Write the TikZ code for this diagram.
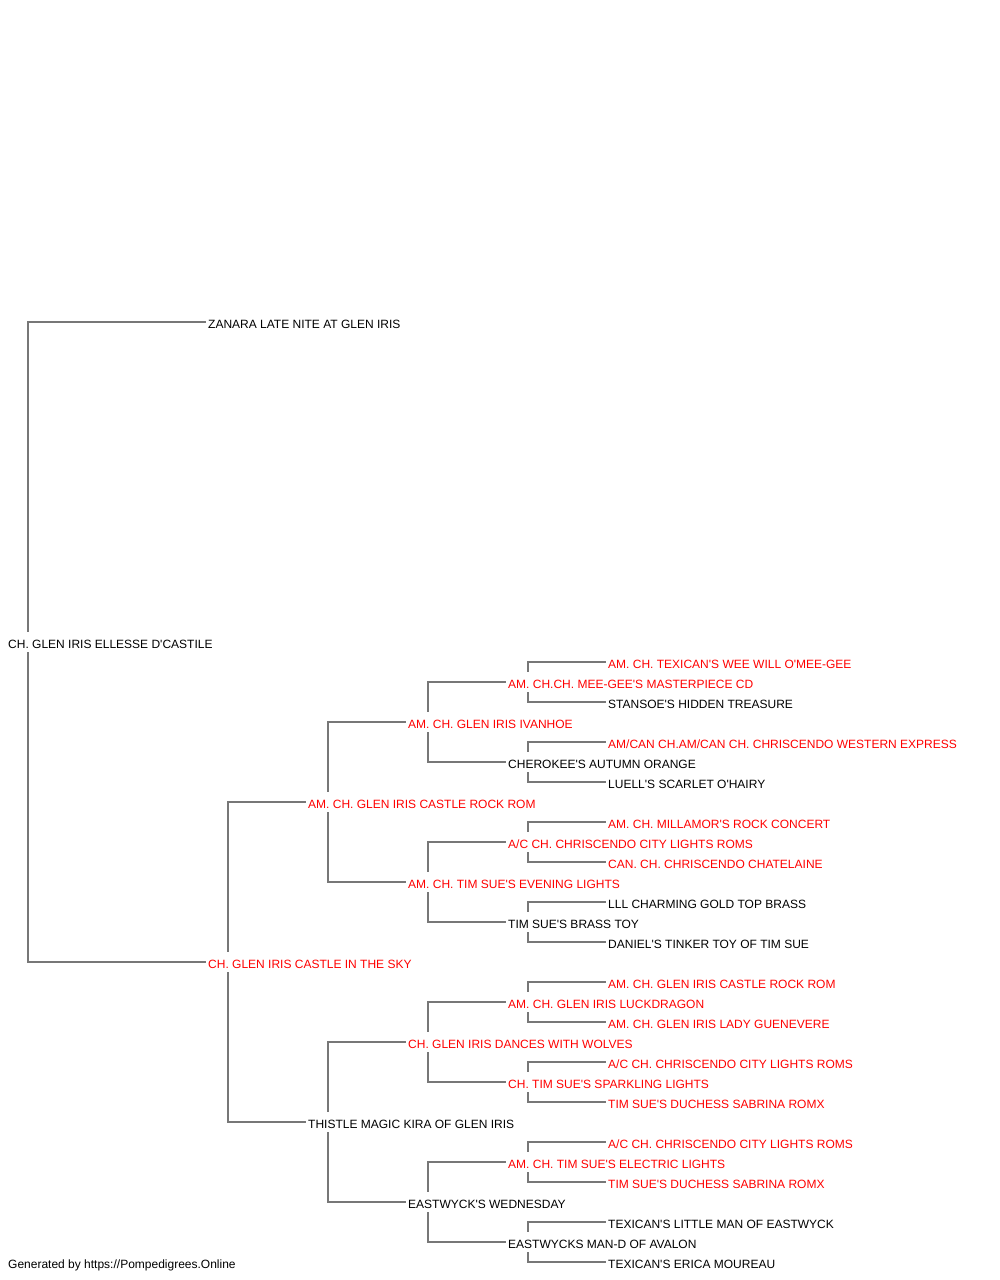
\documentclass[tikz,border=0pt]{standalone}
\usepackage{fontspec}
\setmainfont{Liberation Sans}[Ligatures=TeXOff]
\usetikzlibrary{backgrounds}

\definecolor{pedline}{HTML}{777777}
\definecolor{champ}{HTML}{FF0000}

\tikzset{
  dog/.style={anchor=west, fill=white, inner xsep=2pt, inner ysep=3.4pt,
    text height=12.6pt, text depth=0pt, font=\fontsize{12}{14}\selectfont},
  ch/.style={dog, text=champ},
  link/.style={draw=pedline, line width=1.5pt},
}

\begin{document}
\begin{tikzpicture}[x=1pt, y=-1pt]

\useasboundingbox (0,0) rectangle (1000,1280);

% dog, sire, dam
\node[dog] (r) at (6,642) {CH. GLEN IRIS ELLESSE D'CASTILE};
\node[dog] (s) at (206,322) {ZANARA LATE NITE AT GLEN IRIS};
\node[ch] (d) at (206,962) {CH. GLEN IRIS CASTLE IN THE SKY};

% grandparents
\node[ch] (ds) at (306,802) {AM. CH. GLEN IRIS CASTLE ROCK ROM};
\node[dog] (dd) at (306,1122) {THISTLE MAGIC KIRA OF GLEN IRIS};

% great-grandparents
\node[ch] (dss) at (406,722) {AM. CH. GLEN IRIS IVANHOE};
\node[ch] (dsd) at (406,882) {AM. CH. TIM SUE'S EVENING LIGHTS};
\node[ch] (dds) at (406,1042) {CH. GLEN IRIS DANCES WITH WOLVES};
\node[dog] (ddd) at (406,1202) {EASTWYCK'S WEDNESDAY};

% 4th generation
\node[ch] (dsss) at (506,682) {AM. CH.CH. MEE-GEE'S MASTERPIECE CD};
\node[dog] (dssd) at (506,762) {CHEROKEE'S AUTUMN ORANGE};
\node[ch] (dsds) at (506,842) {A/C CH. CHRISCENDO CITY LIGHTS ROMS};
\node[dog] (dsdd) at (506,922) {TIM SUE'S BRASS TOY};
\node[ch] (ddss) at (506,1002) {AM. CH. GLEN IRIS LUCKDRAGON};
\node[ch] (ddsd) at (506,1082) {CH. TIM SUE'S SPARKLING LIGHTS};
\node[ch] (ddds) at (506,1162) {AM. CH. TIM SUE'S ELECTRIC LIGHTS};
\node[dog] (dddd) at (506,1242) {EASTWYCKS MAN-D OF AVALON};

% 5th generation
\node[ch] (dssss) at (606,662) {AM. CH. TEXICAN'S WEE WILL O'MEE-GEE};
\node[dog] (dsssd) at (606,702) {STANSOE'S HIDDEN TREASURE};
\node[ch] (dssds) at (606,742) {AM/CAN CH.AM/CAN CH. CHRISCENDO WESTERN EXPRESS};
\node[dog] (dssdd) at (606,782) {LUELL'S SCARLET O'HAIRY};
\node[ch] (dsdss) at (606,822) {AM. CH. MILLAMOR'S ROCK CONCERT};
\node[ch] (dsdsd) at (606,862) {CAN. CH. CHRISCENDO CHATELAINE};
\node[dog] (dsdds) at (606,902) {LLL CHARMING GOLD TOP BRASS};
\node[dog] (dsddd) at (606,942) {DANIEL'S TINKER TOY OF TIM SUE};
\node[ch] (ddsss) at (606,982) {AM. CH. GLEN IRIS CASTLE ROCK ROM};
\node[ch] (ddssd) at (606,1022) {AM. CH. GLEN IRIS LADY GUENEVERE};
\node[ch] (ddsds) at (606,1062) {A/C CH. CHRISCENDO CITY LIGHTS ROMS};
\node[ch] (ddsdd) at (606,1102) {TIM SUE'S DUCHESS SABRINA ROMX};
\node[ch] (dddss) at (606,1142) {A/C CH. CHRISCENDO CITY LIGHTS ROMS};
\node[ch] (dddsd) at (606,1182) {TIM SUE'S DUCHESS SABRINA ROMX};
\node[dog] (dddds) at (606,1222) {TEXICAN'S LITTLE MAN OF EASTWYCK};
\node[dog] (ddddd) at (606,1262) {TEXICAN'S ERICA MOUREAU};

\node[dog, fill=none] (foot) at (6,1262) {Generated by https://Pompedigrees.Online};

% elbow lines behind the names
\begin{scope}[on background layer]
\draw[link] (s.west) -| ([xshift=22pt]r.west);
\draw[link] (d.west) -| ([xshift=22pt]r.west);
\foreach \p in {d,ds,dd,dss,dsd,dds,ddd,dsss,dssd,dsds,dsdd,ddss,ddsd,ddds,dddd}
  \foreach \c in {s,d}
    \draw[link] (\p\c.west) -| ([xshift=22pt]\p.west);
\end{scope}

\end{tikzpicture}
\end{document}
